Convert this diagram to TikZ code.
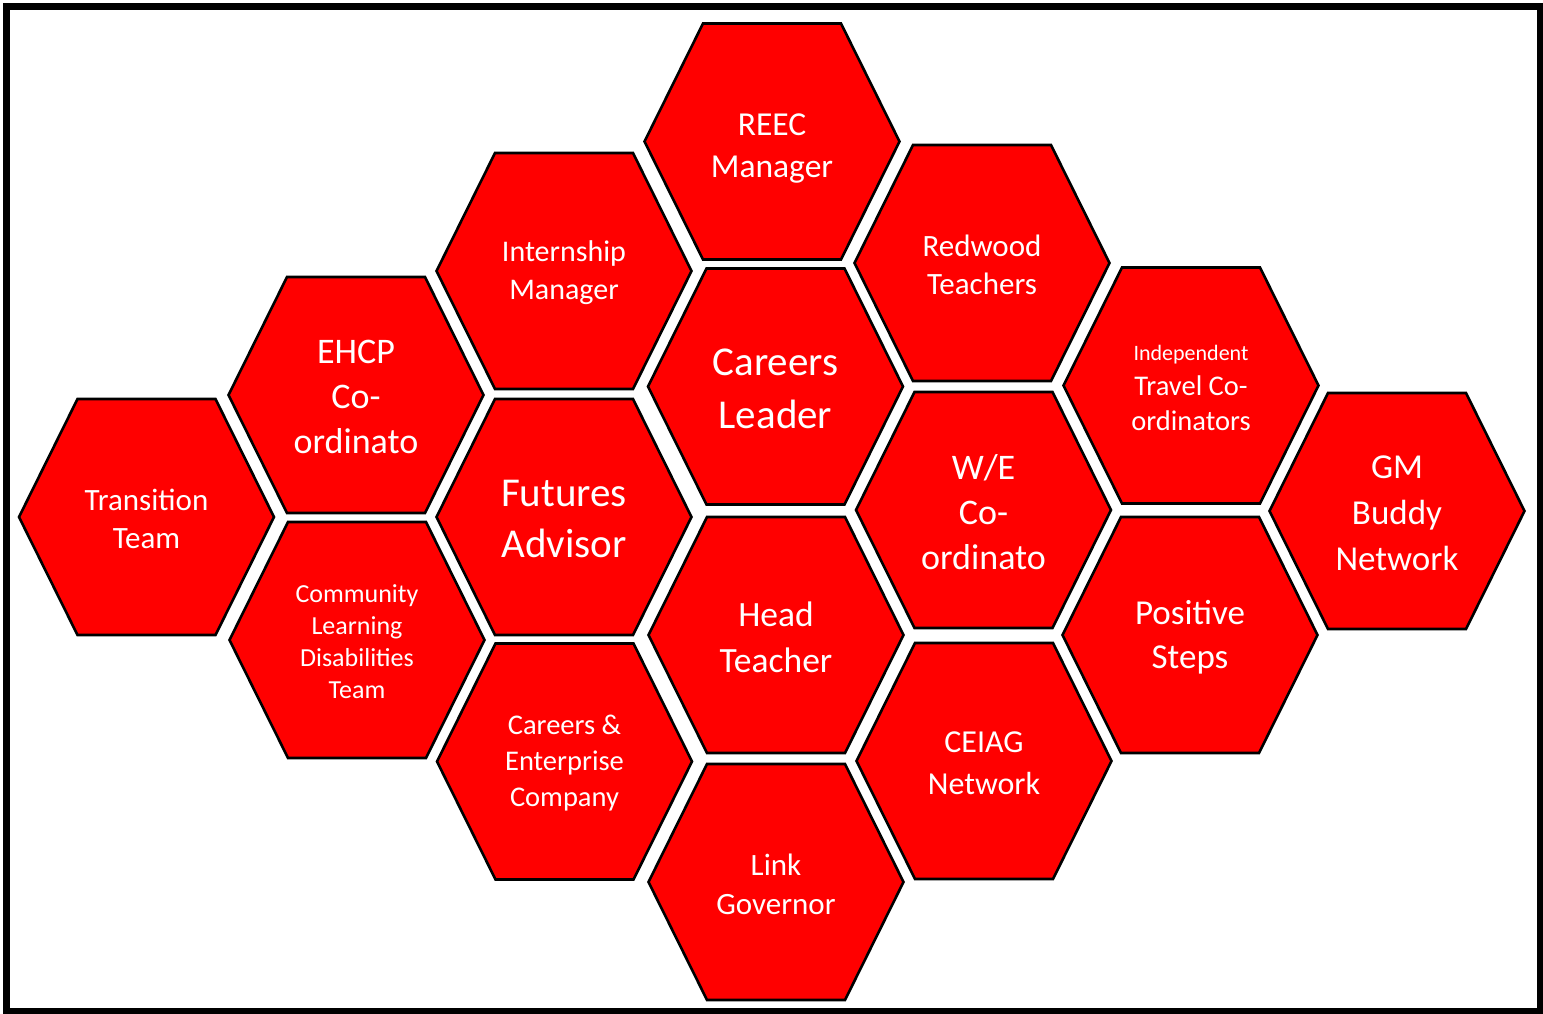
\documentclass[tikz,border=0pt]{standalone}
\usepackage{fontspec}
\setmainfont{Carlito}
\usetikzlibrary{calc}

\definecolor{hexred}{HTML}{FF0000}

\tikzset{
    hexline/.style={fill=hexred, draw=black, line width=1.3pt, line join=miter},
    hexlabel/.style={text=white, align=center, inner sep=0pt, yshift=-1pt},
    frame/.style={draw=black, line width=3.5pt},
}

% one cell: [label options], name, centre, font size, line skip, label
\newcommand{\hexcell}[6][]{
    \coordinate (#2-c) at (#3);
    \filldraw[hexline] ($(#2-c)+(-127.5,0)$) -- ++(58.5,-118) -- ++(138,0)
        -- ++(58.5,118) -- ++(-58.5,118) -- ++(-138,0) -- cycle;
    \node[hexlabel, font=\fontsize{#4}{#5}\selectfont, #1] (#2) at (#2-c) {#6};
}

\begin{document}
\begin{tikzpicture}[x=0.5pt, y=-0.5pt]
    \useasboundingbox (0,0) rectangle (1543,1013);
    \draw[frame] (6.5,6) rectangle (1540.5,1011.5);

    \hexcell{trans}{146.5,517}{15.5}{19}{Transition\\Team}
    \hexcell{ehcp}{356,395}{18}{22.5}{EHCP\\Co-\\ordinato}
    \hexcell{cldt}{357,640}{13}{16}{Community\\Learning\\Disabilities\\Team}
    \hexcell{intern}{564,271}{15}{19}{Internship\\Manager}
    \hexcell{futures}{564,517}{20.5}{25.5}{Futures\\Advisor}
    \hexcell{cec}{564.5,761.5}{14.25}{18}{Careers \&\\Enterprise\\Company}
    \hexcell[yshift=-2.5pt]{reec}{772,141.5}{16.75}{21}{REEC\\Manager}
    \hexcell{leader}{775.5,386.5}{20.5}{26.5}{Careers\\Leader}
    \hexcell{head}{776,635}{17.75}{23}{Head\\Teacher}
    \hexcell{link}{776,882}{15.5}{19.5}{Link\\Governor}
    \hexcell{redwood}{982,263}{15.5}{19}{Redwood\\Teachers}
    \hexcell{we}{983.5,510}{18}{22.5}{W/E\\Co-\\ordinato}
    \hexcell{ceiag}{984,761}{16}{21}{CEIAG\\Network}
    \hexcell{itc}{1191,385.5}{14.25}{17.5}{{\fontsize{11}{17.5}\selectfont Independent}\\Travel Co-\\ordinators}
    \hexcell{steps}{1190,635}{17.5}{22}{Positive\\Steps}
    \hexcell{gm}{1397,511}{17.5}{23}{GM\\Buddy\\Network}
\end{tikzpicture}
\end{document}
